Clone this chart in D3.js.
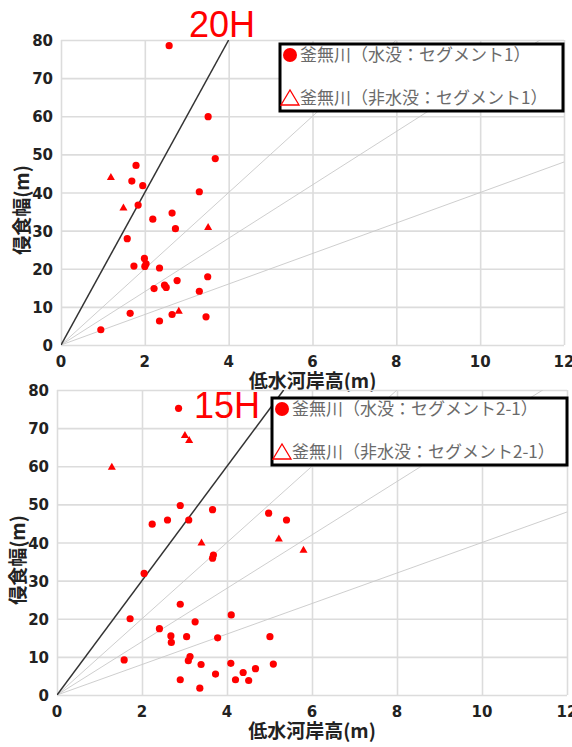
<!DOCTYPE html>
<html>
<head>
<meta charset="utf-8">
<script src="https://cdn.jsdelivr.net/npm/d3@7"></script>
<style>
  body { margin: 0; background: #fff; }
  svg { display: block; }
</style>
</head>
<body>
<svg id="chart" width="572" height="747"></svg>
<script>
// segment 1, submerged (circles) and not submerged (triangles)
var seg1Submerged = [
    [2.58, 78.5], [3.51, 59.9], [3.68, 48.9], [1.79, 47.1], [1.69, 43.0], [1.95, 41.8],
    [3.30, 40.2], [1.84, 36.7], [2.19, 33.0], [2.65, 34.6], [2.73, 30.5], [1.58, 27.9],
    [1.99, 22.7], [2.03, 21.3], [2.00, 20.6], [1.74, 20.7], [2.35, 20.2], [2.77, 16.9],
    [3.50, 17.9], [2.47, 15.7], [2.51, 15.1], [2.22, 14.8], [3.30, 14.1], [1.65, 8.3],
    [2.65, 8.0], [3.46, 7.4], [2.35, 6.3], [0.95, 4.0]
]
var seg1Dry = [[1.19, 43.9], [1.49, 35.9], [3.51, 30.8], [2.81, 8.8]]

// segment 2-1
var seg21Submerged = [
    [2.86, 75.2], [2.90, 49.7], [3.66, 48.6], [2.24, 44.8], [2.60, 45.9], [3.10, 45.9],
    [3.68, 36.7], [3.66, 35.9], [4.98, 47.7], [5.40, 45.9], [5.01, 15.3], [5.09, 8.1],
    [2.05, 31.9], [2.90, 23.8], [1.72, 20.0], [4.10, 21.0], [3.25, 19.2], [2.41, 17.4],
    [2.68, 15.5], [2.69, 13.8], [3.05, 15.3], [3.78, 15.0], [1.58, 9.2], [3.13, 10.1],
    [3.09, 9.0], [3.39, 8.0], [4.09, 8.3], [4.67, 6.9], [4.38, 5.9], [3.73, 5.5],
    [2.90, 4.0], [4.20, 4.0], [4.51, 3.8], [3.36, 1.8]
]
var seg21Dry = [[3.01, 68.0], [3.11, 66.7], [1.29, 59.7], [3.40, 39.8], [5.22, 40.9], [5.80, 37.9]]

// width = k * bank height
var guideSlopes = [10, 7, 4]

var xTicks = [0, 2, 4, 6, 8, 10, 12]
var yTicks = [0, 10, 20, 30, 40, 50, 60, 70, 80]

var svg = d3.select("#chart")
var red = "#ff0000"

function drawPanel(p) {
    var x = d3.scaleLinear().domain([0, 12]).range([p.left, p.right])
    var y = d3.scaleLinear().domain([0, 80]).range([p.bottom, p.top])
    var g = svg.append("g")

    var clipId = "clip" + p.id
    g.append("clipPath").attr("id", clipId)
        .append("rect")
        .attr("x", p.left).attr("y", p.top)
        .attr("width", p.right - p.left).attr("height", p.bottom - p.top)

    // grid
    g.append("g").attr("transform", "translate(0," + p.bottom + ")")
        .call(d3.axisBottom(x).tickValues(xTicks).tickSize(-(p.bottom - p.top)).tickFormat(""))
        .call(function(a) {
            a.select(".domain").remove()
            a.selectAll("line").attr("stroke", "#dcdcdc").attr("stroke-width", 1.6)
        })
    g.append("g").attr("transform", "translate(" + p.left + ",0)")
        .call(d3.axisLeft(y).tickValues(yTicks).tickSize(-(p.right - p.left)).tickFormat(""))
        .call(function(a) {
            a.select(".domain").remove()
            a.selectAll("line").attr("stroke", "#dcdcdc").attr("stroke-width", 1.6)
        })

    // tick labels
    g.selectAll(".xlab").data(xTicks).enter().append("text")
        .attr("x", function(d) { return x(d) }).attr("y", p.bottom + 22)
        .attr("text-anchor", "middle")
        .style("font", "bold 15px 'DejaVu Sans'").attr("fill", "#222")
        .text(function(d) { return d })
    g.selectAll(".ylab").data(yTicks).enter().append("text")
        .attr("x", p.left - 8).attr("y", function(d) { return y(d) + 6 })
        .attr("text-anchor", "end")
        .style("font", "bold 15px 'DejaVu Sans'").attr("fill", "#222")
        .text(function(d) { return d })

    // guide lines
    var lines = g.append("g").attr("clip-path", "url(#" + clipId + ")")
    guideSlopes.forEach(function(k) {
        lines.append("line")
            .attr("x1", x(0)).attr("y1", y(0))
            .attr("x2", x(12)).attr("y2", y(12 * k))
            .attr("stroke", "#c8c8c8").attr("stroke-width", 0.9)
    })
    lines.append("line")
        .attr("x1", x(0)).attr("y1", y(0))
        .attr("x2", x(80 / p.slope)).attr("y2", y(80))
        .attr("stroke", "#333").attr("stroke-width", 1.5)

    // points
    g.selectAll(".dot").data(p.wet).enter().append("circle")
        .attr("cx", function(d) { return x(d[0]) })
        .attr("cy", function(d) { return y(d[1]) })
        .attr("r", 3.6).attr("fill", red)
    g.selectAll(".tri").data(p.dry).enter().append("path")
        .attr("d", d3.symbol(d3.symbolTriangle, 28))
        .attr("transform", function(d) { return "translate(" + x(d[0]) + "," + y(d[1]) + ")" })
        .attr("fill", red)

    // axis titles
    g.append("text")
        .attr("x", (p.left + p.right) / 2).attr("y", p.bottom + 43)
        .attr("text-anchor", "middle")
        .style("font", "bold 19px 'Noto Sans CJK JP'").attr("fill", "#222")
        .text("低水河岸高(m)")
    g.append("text")
        .attr("transform", "translate(" + (p.left - 32) + "," + p.labelY + ") rotate(-90)")
        .attr("text-anchor", "middle")
        .style("font", "bold 19px 'Noto Sans CJK JP'").attr("fill", "#222")
        .text("侵食幅(m)")

    // title
    g.append("text")
        .attr("x", p.titleX).attr("y", p.titleY)
        .style("font", "36px 'Liberation Sans'").attr("fill", red)
        .text(p.title)

    // legend
    var lg = g.append("g").attr("transform", "translate(" + p.legX + "," + p.legY + ")")
    lg.append("rect").attr("width", p.legW).attr("height", 67)
        .attr("fill", "#fff").attr("stroke", "#000").attr("stroke-width", 3)
    lg.append("circle").attr("cx", 10).attr("cy", 11).attr("r", 7).attr("fill", red)
    lg.append("path").attr("d", "M1,61 L10,46 L19,61 Z")
        .attr("fill", "none").attr("stroke", red).attr("stroke-width", 1.3)
    lg.append("text").attr("x", 20).attr("y", 17)
        .style("font", "17px 'Noto Sans CJK JP'").attr("fill", "#6a6a6a")
        .text("釜無川（水没：セグメント" + p.seg + "）")
    lg.append("text").attr("x", 20).attr("y", 60)
        .style("font", "17px 'Noto Sans CJK JP'").attr("fill", "#6a6a6a")
        .text("釜無川（非水没：セグメント" + p.seg + "）")
}

drawPanel({
    id: "a", left: 61, right: 564, top: 40, bottom: 345,
    slope: 20, wet: seg1Submerged, dry: seg1Dry,
    title: "20H", titleX: 189, titleY: 37, labelY: 210,
    legX: 280, legY: 44, legW: 283, seg: "1"
})
drawPanel({
    id: "b", left: 57, right: 567, top: 390, bottom: 695,
    slope: 15, wet: seg21Submerged, dry: seg21Dry,
    title: "15H", titleX: 194, titleY: 418, labelY: 560,
    legX: 272, legY: 398, legW: 295, seg: "2-1"
})
</script>
</body>
</html>
